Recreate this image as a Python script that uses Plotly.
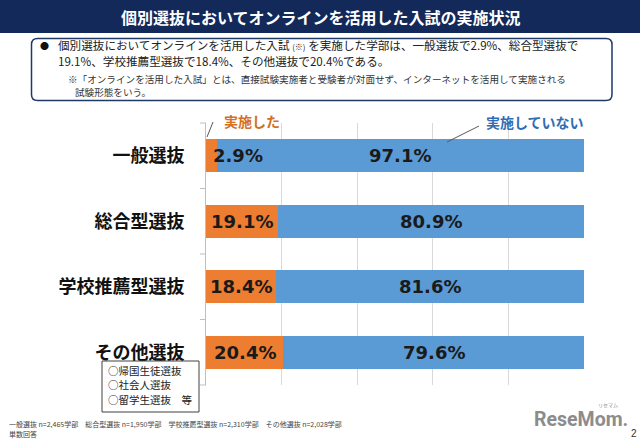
import plotly.graph_objects as go

# ---- data ----
categories = ["一般選抜", "総合型選抜", "学校推薦型選抜", "その他選抜"]
implemented = [2.9, 19.1, 18.4, 20.4]
not_implemented = [97.1, 80.9, 81.6, 79.6]
series_names = ["実施した", "実施していない"]
title_text = "個別選抜においてオンラインを活用した入試の実施状況"
other_notes = ["○帰国生徒選抜", "○社会人選抜", "○留学生選抜　等"]
footnote_lines = ["一般選抜 n=2,465学部　総合型選抜 n=1,950学部　学校推薦型選抜 n=2,310学部　その他選抜 n=2,028学部",
                  "単数回答"]

ORANGE = "#ED7D31"
BLUE = "#5B9BD5"
NAVY = "#12295A"
JP = "Noto Sans CJK JP"
NUM = "DejaVu Sans"

W, H = 640, 443
L, R, T, B = 206, 584, 123, 385


def px(x):
    return (x - L) / (R - L)


def py(y):
    return (B - y) / (B - T)


fig = go.Figure()
fig.add_trace(go.Bar(y=categories, x=implemented, orientation="h", name=series_names[0],
                     marker=dict(color=ORANGE, line=dict(width=0)), width=0.5, hoverinfo="x"))
fig.add_trace(go.Bar(y=categories, x=not_implemented, orientation="h", name=series_names[1],
                     marker=dict(color=BLUE, line=dict(width=0)), width=0.5, hoverinfo="x"))

annotations = []
shapes = []

# data labels
for cat, a, b in zip(categories, implemented, not_implemented):
    annotations.append(dict(x=a / 2, y=cat, xref="x", yref="y", text=f"<b>{a:.1f}%</b>",
                            showarrow=False, xanchor="left" if a < 10 else "center",
                            font=dict(family=NUM, size=18, color="#1a1a1a")))
    annotations.append(dict(x=a + b / 2, y=cat, xref="x", yref="y", text=f"<b>{b:.1f}%</b>",
                            showarrow=False, xanchor="center",
                            font=dict(family=NUM, size=18, color="#1a1a1a")))

# series labels with leader lines
annotations.append(dict(x=px(222), y=py(121), xref="paper", yref="paper", text=f"<b>{series_names[0]}</b>",
                        showarrow=False, xanchor="left", yanchor="middle",
                        font=dict(family=JP, size=14, color="#D46F22")))
annotations.append(dict(x=px(484), y=py(122), xref="paper", yref="paper", text=f"<b>{series_names[1]}</b>",
                        showarrow=False, xanchor="left", yanchor="middle",
                        font=dict(family=JP, size=14, color="#2F6DB5")))
shapes.append(dict(type="line", xref="paper", yref="paper", x0=px(207), y0=py(137), x1=px(213), y1=py(122),
                   line=dict(color="#595959", width=1)))
shapes.append(dict(type="line", xref="paper", yref="paper", x0=px(447), y0=py(142), x1=px(479), y1=py(126),
                   line=dict(color="#595959", width=1)))

# y-axis boundary ticks
for k in range(len(categories) + 1):
    yk = py(T + k * (B - T) / len(categories))
    shapes.append(dict(type="line", xref="paper", yref="paper", x0=px(200), x1=px(206), y0=yk, y1=yk,
                       line=dict(color="#BFBFBF", width=1)))

# title bar
shapes.append(dict(type="rect", xref="paper", yref="paper", x0=px(0), x1=px(640), y0=py(33), y1=py(0),
                   fillcolor=NAVY, line=dict(width=0), layer="below"))
annotations.append(dict(x=px(321), y=py(16.5), xref="paper", yref="paper", text=f"<b>{title_text}</b>",
                        showarrow=False, xanchor="center", yanchor="middle",
                        font=dict(family=JP, size=16, color="white")))

# rounded summary box
x0b, x1b, y0b, y1b, r = 31.5, 612, 38.5, 100.5, 6


def P(x, y):
    return f"{px(x):.5f},{py(y):.5f}"


path = (f"M {P(x0b + r, y0b)} L {P(x1b - r, y0b)} Q {P(x1b, y0b)} {P(x1b, y0b + r)} "
        f"L {P(x1b, y1b - r)} Q {P(x1b, y1b)} {P(x1b - r, y1b)} "
        f"L {P(x0b + r, y1b)} Q {P(x0b, y1b)} {P(x0b, y1b - r)} "
        f"L {P(x0b, y0b + r)} Q {P(x0b, y0b)} {P(x0b + r, y0b)} Z")
shapes.append(dict(type="path", xref="paper", yref="paper", path=path,
                   line=dict(color="#1F3864", width=1.5), fillcolor="white", layer="below"))

annotations.append(dict(x=px(38), y=py(45.5), xref="paper", yref="paper", text="●",
                        showarrow=False, xanchor="left", yanchor="middle",
                        font=dict(family=JP, size=9, color="#111")))
annotations.append(dict(
    x=px(56), y=py(45.5), xref="paper", yref="paper",
    text="個別選抜においてオンラインを活用した入試 <span style='font-size:8px'>(※)</span> を実施した学部は、一般選抜で2.9%、総合型選抜で",
    showarrow=False, xanchor="left", yanchor="middle", font=dict(family=JP, size=11.6, color="#222")))
annotations.append(dict(
    x=px(56), y=py(60.5), xref="paper", yref="paper",
    text="19.1%、学校推薦型選抜で18.4%、その他選抜で20.4%である。",
    showarrow=False, xanchor="left", yanchor="middle", font=dict(family=JP, size=11.6, color="#222")))
annotations.append(dict(
    x=px(66), y=py(79), xref="paper", yref="paper",
    text="※「オンラインを活用した入試」とは、直接試験実施者と受験者が対面せず、インターネットを活用して実施される",
    showarrow=False, xanchor="left", yanchor="middle", font=dict(family=JP, size=9.6, color="#333")))
annotations.append(dict(
    x=px(73), y=py(91.5), xref="paper", yref="paper", text="試験形態をいう。",
    showarrow=False, xanchor="left", yanchor="middle", font=dict(family=JP, size=9.6, color="#333")))

# other-selection note box
shapes.append(dict(type="rect", xref="paper", yref="paper", x0=px(102), x1=px(199), y0=py(412), y1=py(361),
                   fillcolor="white", line=dict(color="#404040", width=1)))
for i, t in enumerate(other_notes):
    annotations.append(dict(x=px(106), y=py(370 + i * 14.5), xref="paper", yref="paper", text=t,
                            showarrow=False, xanchor="left", yanchor="middle",
                            font=dict(family=JP, size=10.5, color="#222")))

# footnotes
for i, t in enumerate(footnote_lines):
    annotations.append(dict(x=px(7), y=py(424 + i * 10), xref="paper", yref="paper", text=t,
                            showarrow=False, xanchor="left", yanchor="middle",
                            font=dict(family=JP, size=7, color="#444")))

# logo & page number
annotations.append(dict(x=px(532), y=py(419), xref="paper", yref="paper", text="<b>ReseMom.</b>",
                        showarrow=False, xanchor="left", yanchor="middle",
                        font=dict(family="Roboto", size=19.5, color="#8C8C8C")))
annotations.append(dict(x=px(608), y=py(405), xref="paper", yref="paper", text="リセマム",
                        showarrow=False, xanchor="center", yanchor="middle",
                        font=dict(family=JP, size=5, color="#8C8C8C")))
annotations.append(dict(x=px(634), y=py(433), xref="paper", yref="paper", text="2",
                        showarrow=False, xanchor="center", yanchor="middle",
                        font=dict(family="Liberation Sans", size=10, color="#333")))

fig.update_layout(
    width=W, height=H,
    margin=dict(l=L, r=W - R, t=T, b=H - B),
    barmode="stack", bargap=0.5, showlegend=False,
    paper_bgcolor="white", plot_bgcolor="white",
    annotations=annotations, shapes=shapes,
    xaxis=dict(range=[0, 100], dtick=20, showgrid=True, gridcolor="#D9D9D9", gridwidth=1,
               showticklabels=False, zeroline=False, showline=False, fixedrange=True),
    yaxis=dict(categoryorder="array", categoryarray=categories, autorange="reversed",
               showline=True, linecolor="#BFBFBF", linewidth=1, ticks="", showgrid=False,
               ticklabelstandoff=17,
               tickfont=dict(family=JP, size=18, color="#111", weight="bold"), fixedrange=True),
)

fig.write_html("out.html")
